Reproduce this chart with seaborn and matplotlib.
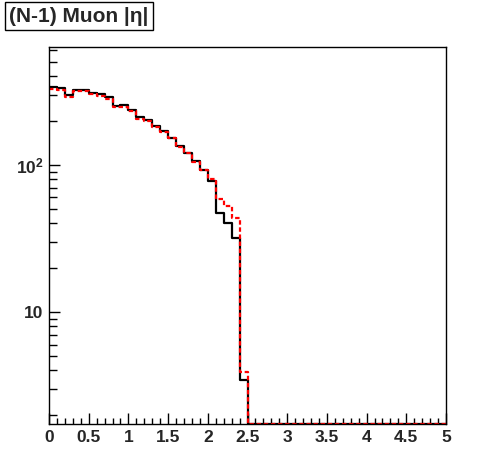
import numpy as np
import pandas as pd
import matplotlib
matplotlib.use("Agg")
import matplotlib.pyplot as plt
import matplotlib.ticker as mticker
import seaborn as sns

# |eta| histogram, 50 bins of 0.1 from 0 to 5
bin_edges = np.round(np.arange(0, 5.01, 0.1), 2)
black_counts = [340, 334, 299, 324, 324, 310, 301, 289, 252, 256,
                236, 211, 202, 184, 171, 153, 135, 121, 106, 91.5,
                77, 46.9, 40.4, 31.7, 3.44] + [0] * 25
red_counts = [327, 322, 287, 315, 315, 301, 292, 280, 249, 247,
              233, 205, 199, 181, 168, 151, 133, 120, 105, 92.5,
              80, 59, 52.8, 43.2, 3.9] + [0] * 25
x_tick_labels = ["0", "0.5", "1", "1.5", "2", "2.5", "3", "3.5", "4", "4.5", "5"]
y_tick_labels = ["10", r"$\mathbf{10^{2}}$"]

y_min, y_max = 1.73, 632

sns.set_style("white")
plt.rcParams["font.family"] = ["Liberation Sans", "DejaVu Sans"]
plt.rcParams["font.weight"] = "bold"
plt.rcParams["mathtext.fontset"] = "custom"
plt.rcParams["mathtext.bf"] = "Liberation Sans:bold"
plt.rcParams["mathtext.rm"] = "Liberation Sans:bold"

fig = plt.figure(figsize=(4.96, 4.72), dpi=100, facecolor="white")
ax = fig.add_axes([49 / 496, 48 / 472, 397 / 496, 377 / 472])


def step_frame(counts):
    # ROOT draws empty bins on the frame bottom
    vals = np.clip(np.array(counts, dtype=float), y_min, None)
    return pd.DataFrame({"x": bin_edges, "y": np.append(vals, vals[-1])})


sns.lineplot(data=step_frame(black_counts), x="x", y="y", ax=ax,
             drawstyle="steps-post", color="black", linewidth=1.6, sort=False)
sns.lineplot(data=step_frame(red_counts), x="x", y="y", ax=ax,
             drawstyle="steps-post", color="red", linewidth=1.6,
             linestyle=(0, (2.0, 1.2)), sort=False)

ax.set_yscale("log")
ax.set_xlim(0, 5)
ax.set_ylim(y_min, y_max)
ax.set_xlabel("")
ax.set_ylabel("")

ax.xaxis.set_major_locator(mticker.FixedLocator(np.arange(0, 5.01, 0.5)))
ax.xaxis.set_major_formatter(mticker.FixedFormatter(x_tick_labels))
ax.xaxis.set_minor_locator(mticker.MultipleLocator(0.1))
ax.yaxis.set_major_locator(mticker.FixedLocator([10, 100]))
ax.yaxis.set_major_formatter(mticker.FixedFormatter(y_tick_labels))
ax.yaxis.set_minor_locator(mticker.LogLocator(base=10, subs=np.arange(2, 10)))
ax.yaxis.set_minor_formatter(mticker.NullFormatter())

ax.tick_params(which="both", direction="in", bottom=True, left=True,
               top=False, right=False, color="black", width=1)
ax.tick_params(which="major", length=8, labelsize=12.5, pad=4)
ax.tick_params(axis="x", which="minor", length=4.5)
ax.tick_params(axis="y", which="minor", length=5.5)
for lbl in ax.get_xticklabels() + ax.get_yticklabels():
    lbl.set_fontweight("bold")

for sp in ax.spines.values():
    sp.set_visible(True)
    sp.set_color("black")
    sp.set_linewidth(1)

fig.text(9 / 496, 1 - 16 / 472, "(N-1) Muon |η|", fontsize=15,
         fontweight="bold", ha="left", va="center",
         bbox=dict(boxstyle="square,pad=0.2", facecolor="white",
                   edgecolor="black", linewidth=1))

fig.savefig("out.png", dpi=100, facecolor="white")
